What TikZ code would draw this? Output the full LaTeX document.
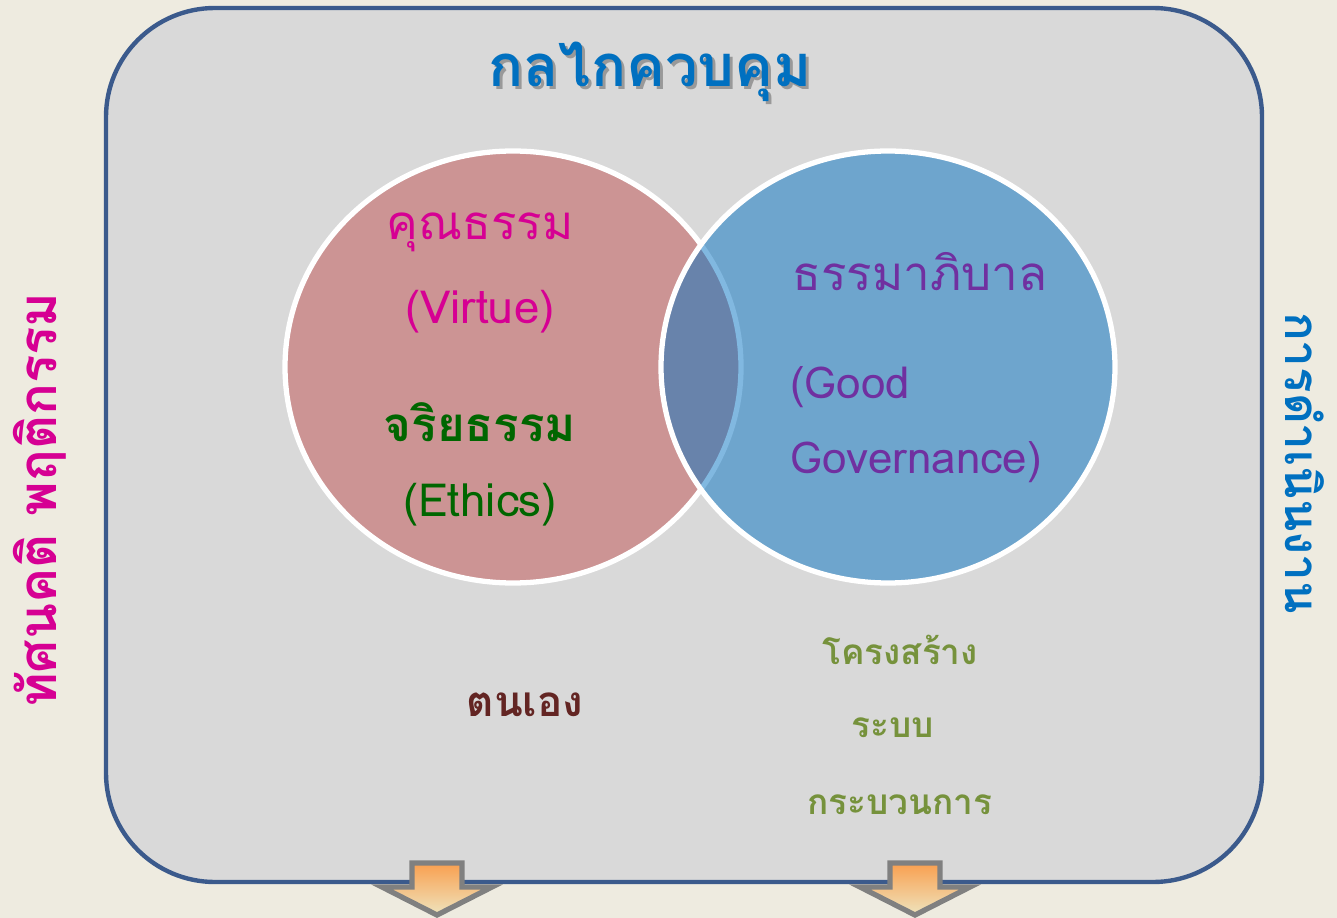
\documentclass[tikz,border=0pt]{standalone}
\usepackage{fontspec}
\newfontfamily\thaifont[Script=Thai]{Loma}
\definecolor{paper}{RGB}{238,235,224}
\definecolor{panel}{RGB}{217,217,217}
\definecolor{frame}{RGB}{59,90,140}
\definecolor{titleblue}{RGB}{0,112,192}
\definecolor{rosefill}{RGB}{204,148,148}
\definecolor{skyfill}{RGB}{5,115,195}
\definecolor{virtue}{RGB}{214,0,147}
\definecolor{ethics}{RGB}{0,102,0}
\definecolor{govern}{RGB}{112,48,160}
\definecolor{self}{RGB}{99,37,35}
\definecolor{olive}{RGB}{118,146,60}
\definecolor{arrowedge}{RGB}{128,128,128}
\definecolor{arrowtop}{RGB}{249,159,79}
\definecolor{arrowbot}{RGB}{238,228,190}
\tikzset{
  label/.style={font=\thaifont\fontsize{#1}{#1}\selectfont, inner sep=0pt},
  down arrow/.style={draw=arrowedge, line width=3pt, line join=miter,
    top color=arrowtop, bottom color=arrowbot}
}
\begin{document}
\begin{tikzpicture}[x=0.02cm,y=-0.02cm]
  \fill[paper] (0,0) rectangle (1337,918);
  \useasboundingbox (0,0) rectangle (1337,918);

  % the panel
  \draw[frame, fill=panel, line width=2.5pt, rounded corners=62pt]
    (106,8) rectangle (1262,882);

  % down arrows under the panel
  \foreach \x in {437,915}
    \draw[down arrow] (\x-25,863) -- (\x+25,863) -- (\x+25,887)
      -- (\x+55,887) -- (\x,915) -- (\x-55,887) -- (\x-25,887) -- cycle;

  % title with its shadow
  \node[label=33pt, text=black!40] at (653,75) {\bfseries กลไกควบคุม};
  \node[label=33pt, text=titleblue] (title) at (650,72) {\bfseries กลไกควบคุม};

  % the two circles
  \coordinate (left) at (513,367);
  \coordinate (right) at (888,367);
  \draw[white, line width=3pt, fill=rosefill]
    (left) ellipse [x radius=228, y radius=216];
  \fill[skyfill, fill opacity=0.5] (right) ellipse [x radius=227, y radius=216];
  \draw[white, line width=3pt] (right) ellipse [x radius=227, y radius=216];

  % left circle
  \node[label=27pt, text=virtue] (virtueth) at (480,232) {คุณธรรม};
  \node[label=26pt, text=virtue] (virtueen) at (480,312) {(Virtue)};
  \node[label=27pt, text=ethics] (ethicsth) at (480,422) {\bfseries จริยธรรม};
  \node[label=26pt, text=ethics] (ethicsen) at (480,505) {(Ethics)};

  % right circle
  \node[label=27pt, text=govern] (goodth) at (920,272) {ธรรมาภิบาล};
  \node[label=25pt, text=govern, anchor=west] (gooden) at (790,387) {(Good};
  \node[label=25pt, text=govern, anchor=west] (govern) at (790,462) {Governance)};

  % below the circles
  \node[label=24pt, text=self] (self) at (525,705) {\bfseries ตนเอง};
  \node[label=20pt, text=olive] (struct) at (900,650) {\bfseries โครงสร้าง};
  \node[label=20pt, text=olive] (system) at (893,728) {\bfseries ระบบ};
  \node[label=20pt, text=olive] (process) at (900,805) {\bfseries กระบวนการ};

  % side captions
  \node[label=30pt, text=virtue, rotate=90] (attitude) at (40,500)
    {\bfseries ทัศนคติ พฤติกรรม};
  \node[label=27pt, text=titleblue, rotate=-90] (operation) at (1305,463)
    {\bfseries การดำเนินงาน};
\end{tikzpicture}
\end{document}
